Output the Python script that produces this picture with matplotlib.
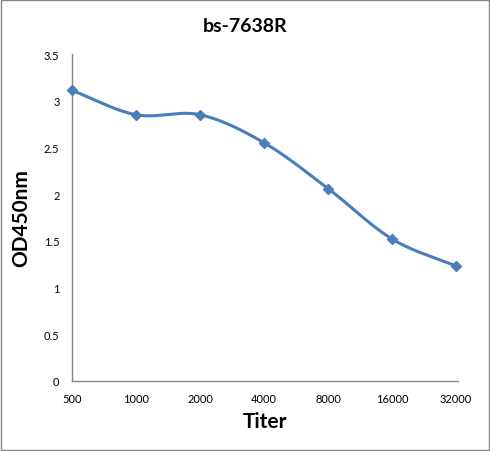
import matplotlib
matplotlib.use("Agg")
import matplotlib.pyplot as plt
import numpy as np

categories = ["500", "1000", "2000", "4000", "8000", "16000", "32000"]
od_values = [3.11, 2.85, 2.85, 2.55, 2.06, 1.52, 1.23]
y_ticks = [0, 0.5, 1, 1.5, 2, 2.5, 3, 3.5]
y_tick_labels = ["0", "0.5", "1", "1.5", "2", "2.5", "3", "3.5"]

plt.rcParams['font.family'] = ['Lato', 'DejaVu Sans']

fig = plt.figure(figsize=(4.9, 4.52), dpi=100)
ax = fig.add_axes([72/490, 1-382/452, (458-72)/490, (382-55)/452])

x = np.arange(len(categories), dtype=float)
y = np.array(od_values)

# Catmull-Rom smoothing (Excel-like smoothed line)
def smooth(xp, yp, n=40):
    px = np.concatenate([[2*xp[0]-xp[1]], xp, [2*xp[-1]-xp[-2]]])
    py = np.concatenate([[2*yp[0]-yp[1]], yp, [2*yp[-1]-yp[-2]]])
    xs, ys = [], []
    for i in range(1, len(px)-2):
        t = np.linspace(0, 1, n)
        for arr, out in ((px, xs), (py, ys)):
            p0, p1, p2, p3 = arr[i-1], arr[i], arr[i+1], arr[i+2]
            out.append(0.5*((2*p1) + (-p0+p2)*t + (2*p0-5*p1+4*p2-p3)*t**2 + (-p0+3*p1-3*p2+p3)*t**3))
    return np.concatenate(xs), np.concatenate(ys)

sx, sy = smooth(x, y)
ax.plot(sx, sy, color='#4a7ebb', lw=2.2, solid_capstyle='round', clip_on=False)
ax.plot(x, y, linestyle='none', marker='D', color='#4a7ebb', markersize=5.5, clip_on=False, zorder=3)

ax.set_xlim(0, 6.03)
ax.set_ylim(0, 3.5)
ax.set_xticks(x)
ax.set_xticklabels(categories, fontsize=8)
ax.set_yticks(y_ticks)
ax.set_yticklabels(y_tick_labels, fontsize=8)
ax.tick_params(length=0, pad=9)
for s in ['top', 'right']:
    ax.spines[s].set_visible(False)
for s in ['left', 'bottom']:
    ax.spines[s].set_color('#868686')
    ax.spines[s].set_linewidth(1)

ax.set_xlabel("Titer", fontsize=15, fontweight='bold', labelpad=5)
ax.set_ylabel("OD450nm", fontsize=15, fontweight='bold', labelpad=9)
fig.text(0.5, 1-27/452, "bs-7638R", ha='center', va='center', fontsize=14, fontweight='bold')

fig.patches.append(matplotlib.patches.Rectangle((0.002, 0.002), 0.996, 0.996, transform=fig.transFigure,
                                                fill=False, edgecolor='#868686', lw=1))

fig.savefig("out.png", dpi=100)
